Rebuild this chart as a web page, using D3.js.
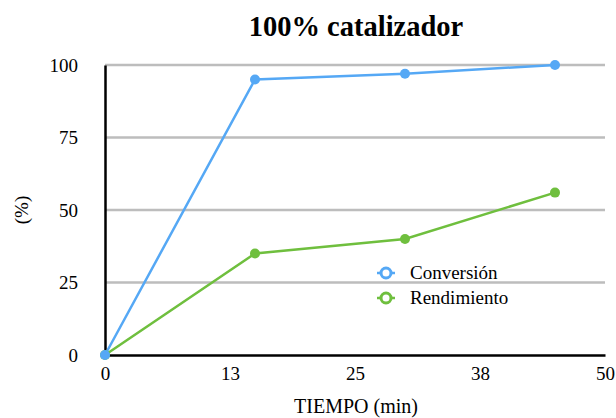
<!DOCTYPE html>
<html>
<head>
<meta charset="utf-8">
<script src="https://cdn.jsdelivr.net/npm/d3@7/dist/d3.min.js"></script>
<style>
  html, body { margin: 0; padding: 0; background: #fff; }
  svg { display: block; font-family: "Liberation Serif", "Times New Roman", serif; }
</style>
</head>
<body>
<svg id="chart" width="616" height="418"></svg>
<script>
// Reaction time (min) and the two measured percentages
const tiempo = [0, 15, 30, 45];
const conversion = [0, 95, 97, 100];
const rendimiento = [0, 35, 40, 56];
const xTicks = [0, 12.5, 25, 37.5, 50];
const yTicks = [0, 25, 50, 75, 100];

const series = [
  { name: "Conversión", values: conversion, color: "#55A8F5" },
  { name: "Rendimiento", values: rendimiento, color: "#6FBF3E" }
];

const svg = d3.select("#chart");
const margin = { left: 105, right: 11, top: 65, bottom: 63 };
const W = 616, H = 418;

const x = d3.scaleLinear().domain([0, 50]).range([margin.left, W - margin.right]);
const y = d3.scaleLinear().domain([0, 100]).range([H - margin.bottom, margin.top]);

// Horizontal gridlines
svg.append("g")
  .selectAll("line")
  .data(yTicks.filter(d => d > 0))
  .join("line")
  .attr("x1", x(0)).attr("x2", x(50))
  .attr("y1", d => y(d)).attr("y2", d => y(d))
  .attr("stroke", "#BDBDBD").attr("stroke-width", 2.5);

// Axes
const xAxis = svg.append("g")
  .attr("transform", `translate(0,${y(0)})`)
  .call(d3.axisBottom(x).tickValues(xTicks).tickSize(0).tickPadding(12)
    .tickFormat(d => Math.round(d)));
const yAxis = svg.append("g")
  .attr("transform", `translate(${x(0)},0)`)
  .call(d3.axisLeft(y).tickValues(yTicks).tickSize(0).tickPadding(27));

[xAxis, yAxis].forEach(g => {
  g.select(".domain").attr("stroke", "#000").attr("stroke-width", 2.5);
  g.selectAll("text")
    .attr("fill", "#000")
    .style("font-family", "'Liberation Serif', serif")
    .style("font-size", "19px");
});

// Series lines and markers
const line = d3.line().x((d, i) => x(tiempo[i])).y(d => y(d));
series.forEach(s => {
  svg.append("path")
    .datum(s.values)
    .attr("fill", "none")
    .attr("stroke", s.color)
    .attr("stroke-width", 2.5)
    .attr("d", line);
});
// Blue markers drawn last so the origin point shows blue on top
[series[1], series[0]].forEach(s => {
  svg.append("g")
    .selectAll("circle")
    .data(s.values)
    .join("circle")
    .attr("cx", (d, i) => x(tiempo[i]))
    .attr("cy", d => y(d))
    .attr("r", 5)
    .attr("fill", s.color);
});

// Title
svg.append("text")
  .attr("x", 356).attr("y", 36)
  .attr("text-anchor", "middle")
  .style("font-size", "28.5px").style("font-weight", "bold")
  .text("100% catalizador");

// Axis titles
svg.append("text")
  .attr("x", 356).attr("y", 413)
  .attr("text-anchor", "middle")
  .style("font-size", "20px")
  .text("TIEMPO (min)");
svg.append("text")
  .attr("transform", `translate(28,${y(50)}) rotate(-90)`)
  .attr("text-anchor", "middle")
  .style("font-size", "19px")
  .text("(%)");

// Legend
const legend = svg.append("g").attr("transform", "translate(386,273)");
series.forEach((s, i) => {
  const g = legend.append("g").attr("transform", `translate(0,${i * 25})`);
  g.append("line").attr("x1", -9).attr("x2", 9).attr("y1", 0).attr("y2", 0)
    .attr("stroke", s.color).attr("stroke-width", 2.5);
  g.append("circle").attr("r", 5).attr("fill", "#fff")
    .attr("stroke", s.color).attr("stroke-width", 3);
  g.append("text").attr("x", 24).attr("y", 6)
    .style("font-size", "19px").text(s.name);
});
</script>
</body>
</html>
